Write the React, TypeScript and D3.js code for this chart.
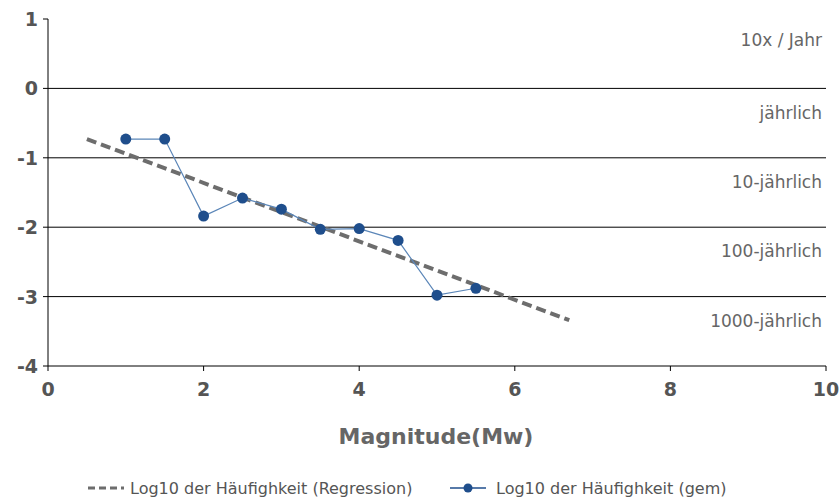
import * as d3 from "d3";

const magnitudes = [1, 1.5, 2, 2.5, 3, 3.5, 4, 4.5, 5, 5.5];
const logFreq = [-0.73, -0.73, -1.84, -1.58, -1.74, -2.03, -2.02, -2.19, -2.98, -2.88];
const regrX = [0.5, 6.7];
const regrY = [-0.73, -3.34];
const bandLabels = ["10x / Jahr", "jährlich", "10-jährlich", "100-jährlich", "1000-jährlich"];
const bandY = [0.7, -0.35, -1.35, -2.35, -3.35];
const xTicks = [0, 2, 4, 6, 8, 10];
const yTicks = [1, 0, -1, -2, -3, -4];

export default function App() {
  const W = 840, H = 500;
  const x = d3.scaleLinear().domain([0, 10]).range([48, 826]);
  const y = d3.scaleLinear().domain([-4, 1]).range([366, 19]);
  const line = d3.line<number>().x((d) => x(magnitudes[d])).y((d) => y(logFreq[d]));
  const font = "DejaVu Sans, sans-serif";
  return (
    <svg width={W} height={H} style={{ position: "absolute", left: 0, top: 0, background: "#fff" }} fontFamily={font}>
      {[0, -1, -2, -3, -4].map((v) => (
        <line key={v} x1={x(0)} x2={x(10)} y1={y(v)} y2={y(v)} stroke="#000" strokeWidth={1} />
      ))}
      <line x1={x(0)} x2={x(0)} y1={y(1)} y2={y(-4)} stroke="#000" />
      {yTicks.map((v) => (
        <g key={v}>
          <line x1={x(0) - 5} x2={x(0)} y1={y(v)} y2={y(v)} stroke="#000" />
          <text x={x(0) - 10} y={y(v) + 7} textAnchor="end" fontSize={19} fontWeight="bold" fill="#555">{v}</text>
        </g>
      ))}
      {xTicks.map((v) => (
        <g key={v}>
          <line x1={x(v)} x2={x(v)} y1={y(-4)} y2={y(-4) + 5} stroke="#000" />
          <text x={x(v)} y={y(-4) + 30} textAnchor="middle" fontSize={19} fontWeight="bold" fill="#555">{v}</text>
        </g>
      ))}
      <text x={436} y={444} textAnchor="middle" fontSize={22} fontWeight="bold" fill="#666">Magnitude(Mw)</text>
      {bandLabels.map((t, i) => (
        <text key={t} x={822} y={y(bandY[i]) + 6} textAnchor="end" fontSize={17} fill="#666">{t}</text>
      ))}
      <line x1={x(regrX[0])} y1={y(regrY[0])} x2={x(regrX[1])} y2={y(regrY[1])} stroke="#6d6d6d" strokeWidth={4} strokeDasharray="10,5" />
      <path d={line(d3.range(magnitudes.length)) || ""} fill="none" stroke="#5b86b8" strokeWidth={1.2} />
      {magnitudes.map((m, i) => (
        <circle key={i} cx={x(m)} cy={y(logFreq[i])} r={5.5} fill="#1f4e8c" />
      ))}
      <g fontSize={16} fill="#555">
        <line x1={88} x2={124} y1={488} y2={488} stroke="#6d6d6d" strokeWidth={3} strokeDasharray="7,4" />
        <text x={130} y={494}>Log10 der Häufighkeit (Regression)</text>
        <line x1={450} x2={486} y1={488} y2={488} stroke="#1f4e8c" strokeWidth={1.5} />
        <circle cx={468} cy={488} r={4.5} fill="#1f4e8c" />
        <text x={496} y={494}>Log10 der Häufighkeit (gem)</text>
      </g>
    </svg>
  );
}
